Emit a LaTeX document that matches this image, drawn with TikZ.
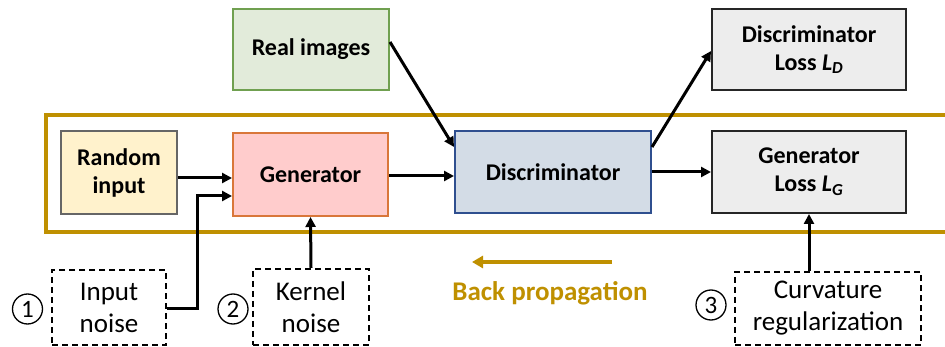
\documentclass[tikz,border=0pt]{standalone}
\usepackage{fontspec}
\setmainfont{Carlito}
\usetikzlibrary{arrows.meta}
\definecolor{gold}{HTML}{BF9000}
\definecolor{randfill}{HTML}{FFF2CC}
\definecolor{genfill}{HTML}{FFCCCC}
\definecolor{gendraw}{HTML}{D9773A}
\definecolor{realfill}{HTML}{E2EBDA}
\definecolor{realdraw}{HTML}{70A050}
\definecolor{discfill}{HTML}{D3DCE6}
\definecolor{discdraw}{HTML}{2F4F8F}
\definecolor{lossfill}{HTML}{EDEDED}
\tikzset{
  x=1pt, y=-1pt,
  blockbox/.style={draw, line width=2pt, align=center, inner sep=0pt,
    font=\fontsize{24}{28}\selectfont\bfseries},
  noisebox/.style={draw, dashed, dash pattern=on 6pt off 4pt, line width=2pt,
    align=center, inner sep=0pt, font=\fontsize{27}{32}\selectfont},
  flow/.style={line width=3pt, -{Triangle[length=10pt,width=10pt]}},
  numlabel/.style={circle, draw, line width=1.3pt, minimum size=30pt, inner sep=0pt,
    font=\fontsize{25}{25}\selectfont},
}
\begin{document}
\begin{tikzpicture}
\useasboundingbox (0,0) rectangle (945,347);
\clip (0,0) rectangle (945,347);

% forward-pass frame
\draw[gold, line width=4pt] (46,115) rectangle (975,232);

% blocks
\node[blockbox, draw=black!60, fill=randfill, minimum width=116pt, minimum height=83pt]
  (rand) at (119,173) {Random\\input};
\node[blockbox, draw=gendraw, fill=genfill, minimum width=155pt, minimum height=83pt]
  (gen) at (310.5,174.5) {Generator};
\node[blockbox, draw=discdraw, fill=discfill, minimum width=196pt, minimum height=82pt]
  (disc) at (553,172) {Discriminator};
\node[blockbox, draw=black!85, fill=lossfill, minimum width=194pt, minimum height=82pt]
  (gloss) at (809,172) {Generator\\Loss \textit{L}\textsubscript{\textit{G}}};
\node[blockbox, draw=realdraw, fill=realfill, minimum width=156pt, minimum height=81pt]
  (real) at (311,49.5) {Real images};
\node[blockbox, draw=black!85, fill=lossfill, minimum width=194pt, minimum height=81pt]
  (dloss) at (809,49.5) {Discriminator\\Loss \textit{L}\textsubscript{\textit{D}}};

% noise and regularization sources
\node[noisebox, minimum width=114pt, minimum height=75pt] (inoise) at (109,307.5) {Input\\noise};
\node[noisebox, minimum width=116pt, minimum height=76pt] (knoise) at (311,307) {Kernel\\noise};
\node[noisebox, minimum width=186pt, minimum height=73pt] (curv) at (828,308.5) {Curvature\\regularization};

\node[numlabel] (n1) at (27.5,309) {1};
\node[numlabel] (n2) at (233,309) {2};
\node[numlabel] (n3) at (711,305) {3};

% connectors
\draw[flow] (rand.east |- 0,178) -- (gen.west |- 0,178);
\draw[flow] (inoise.east |- 0,309) -| (197,196) -- (gen.west |- 0,196);
\draw[flow] (knoise.north) -- (gen.south);
\draw[flow] (gen.east |- 0,176) -- (disc.west |- 0,176);
\draw[flow] ([yshift=-34pt]real.north east) -- ([yshift=-17pt]disc.north west);
\draw[flow] ([yshift=-17pt]disc.north east) -- ([yshift=-43pt]dloss.north west);
\draw[flow] (disc.east |- 0,172) -- (gloss.west |- 0,172);
\draw[flow] (curv.north -| gloss.south) -- (gloss.south);

% back propagation
\coordinate (bpa) at (612,262);
\coordinate (bpb) at (472,262);
\draw[gold, line width=4pt, -{Triangle[length=11pt,width=12pt]}] (bpa) -- (bpb);
\node[text=gold, font=\fontsize{27}{30}\selectfont\bfseries] (bp) at (550,293) {Back propagation};
\end{tikzpicture}
\end{document}
